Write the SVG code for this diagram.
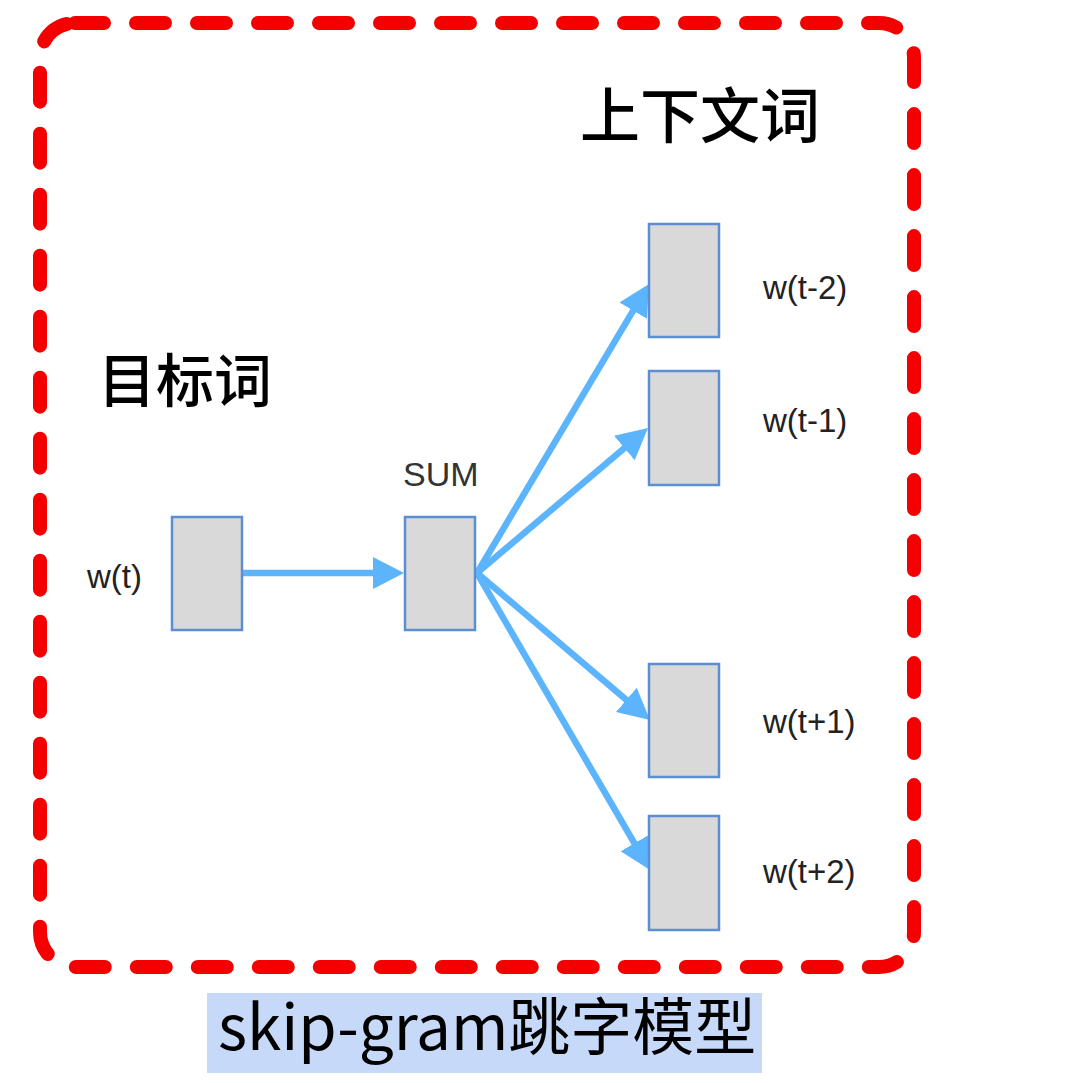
<svg xmlns="http://www.w3.org/2000/svg" width="1090" height="1083" viewBox="0 0 1090 1083">
<style>
.node{fill:#d9d9d9;stroke:#5b8fd2;stroke-width:2.5}
.lbl{font-family:"Liberation Sans",Arial,sans-serif;font-size:33px;fill:#222}
.cjk{font-family:"Noto Sans CJK SC","Noto Sans",sans-serif;fill:#000}
.edge{stroke:#5cb5fc;stroke-width:6.5;fill:none;marker-end:url(#ah)}
</style>
<defs>
<marker id="ah" markerUnits="userSpaceOnUse" markerWidth="31" markerHeight="32" refX="23" refY="16" orient="auto" viewBox="0 0 31 32">
<path d="M0,0 L31,16 L0,32 Z" fill="#5cb5fc"/>
</marker>
</defs>
<rect width="1090" height="1083" fill="#ffffff"/>
<rect x="40" y="23" width="874" height="944" rx="35" ry="35" fill="none" stroke="#f40000" stroke-width="14" stroke-linecap="round" stroke-dasharray="29 32"/>
<g id="connectors">
<path class="edge" d="M243,573 L396,573"/>
<path class="edge" d="M477,573 L644.9,290.9"/>
<path class="edge" d="M477,573 L641.9,433.2"/>
<path class="edge" d="M477,573 L643.9,714.8"/>
<path class="edge" d="M477,573 L646,863.1"/>
</g>
<g id="node-wt">
<rect class="node" x="172" y="517" width="70" height="113"/>
<text class="lbl" x="87" y="588">w(t)</text>
</g>
<g id="node-sum">
<rect class="node" x="405" y="517" width="70" height="113"/>
<text class="lbl" x="403" y="486" style="font-size:34px;fill:#333">SUM</text>
</g>
<g id="node-wt-2">
<rect class="node" x="649" y="224" width="70" height="113"/>
<text class="lbl" x="763" y="299">w(t-2)</text>
</g>
<g id="node-wt-1">
<rect class="node" x="649" y="371" width="70" height="114"/>
<text class="lbl" x="763" y="432">w(t-1)</text>
</g>
<g id="node-wt+1">
<rect class="node" x="649" y="664" width="70" height="113"/>
<text class="lbl" x="763" y="733">w(t+1)</text>
</g>
<g id="node-wt+2">
<rect class="node" x="649" y="816" width="70" height="114"/>
<text class="lbl" x="763" y="883">w(t+2)</text>
</g>
<g id="label-target">
<text class="cjk" x="98" y="402" font-size="58" font-weight="500">目标词</text>
</g>
<g id="label-context">
<text class="cjk" x="580" y="138" font-size="60" font-weight="500">上下文词</text>
</g>
<g id="caption">
<rect x="207" y="993" width="555" height="80" fill="#c6d9f9"/>
<text class="cjk" x="218" y="1050" font-size="62">skip-gram跳字模型</text>
</g>
</svg>
